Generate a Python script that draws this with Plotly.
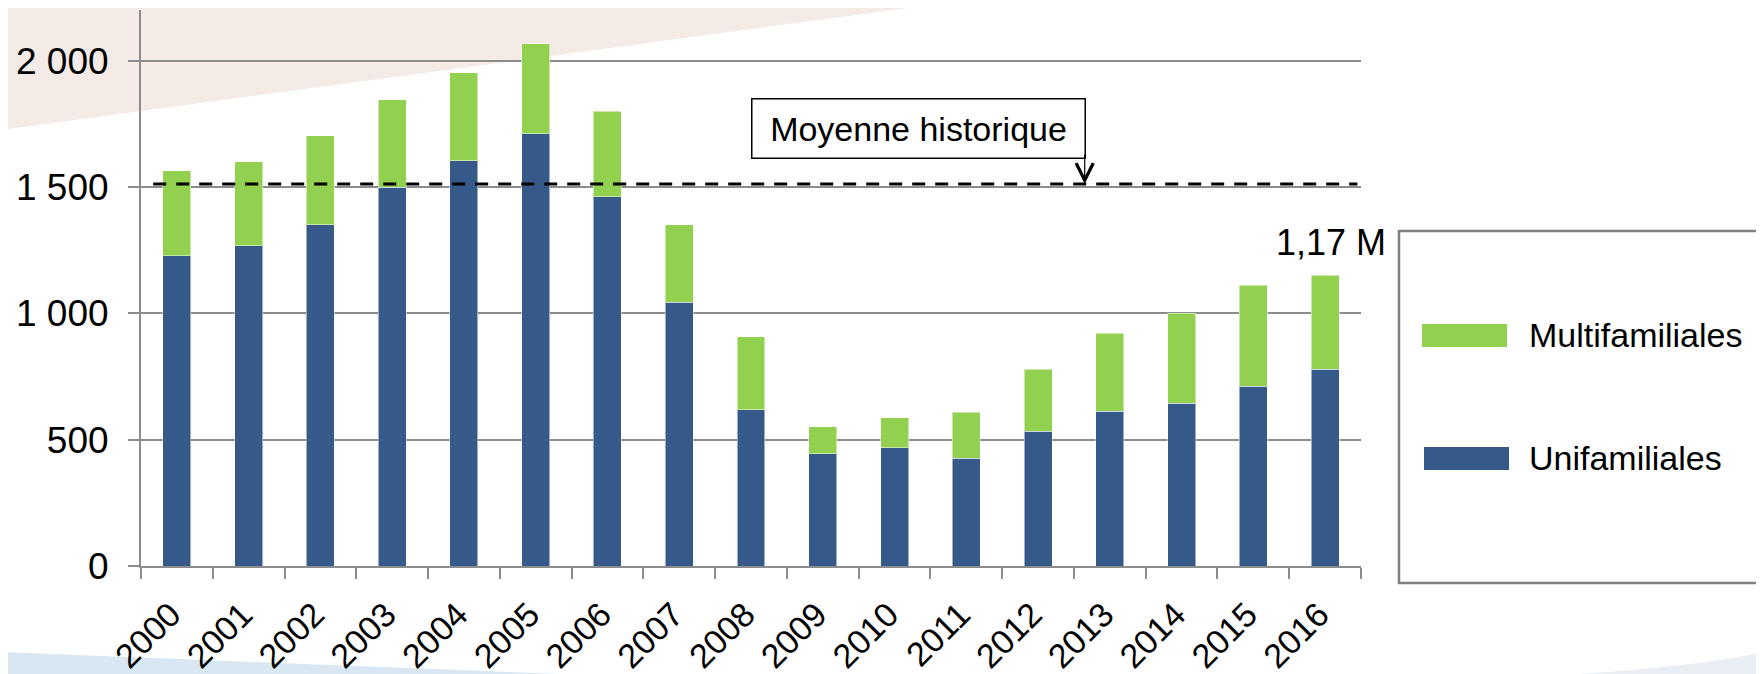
import plotly.graph_objects as go

# Data (thousands of units)
years = [str(y) for y in range(2000, 2017)]
unifamiliales = [1227, 1267, 1351, 1498, 1604, 1711, 1462, 1044, 618, 444, 467, 427, 533, 613, 644, 711, 778]
multifamiliales = [337, 333, 351, 346, 347, 356, 338, 307, 289, 107, 120, 182, 245, 307, 356, 400, 373]
moyenne_historique = 1512
y_ticks = [0, 500, 1000, 1500, 2000]
y_tick_labels = ["0", "500", "1 000", "1 500", "2 000"]
dernier_total = "1,17 M"

BLUE = "#355a8a"
GREEN = "#92d050"
GRAY = "#8c8c8c"
FONT = "Liberation Sans, Arial, sans-serif"

# the page body has an 8px default margin, so the figure is shifted by OFF
OFF = 8
W, H = 1764 - OFF, 674 - OFF
L, R, T, B = 141 - OFF, 403, 10 - OFF, 108
PW, PH = W - L - R, H - T - B


def px(x):
    """page pixel x -> paper x"""
    return (x - OFF - L) / PW


def py(y):
    """page pixel y -> paper y"""
    return (H - B - (y - OFF)) / PH


fig = go.Figure()
fig.add_trace(go.Bar(x=years, y=unifamiliales, name="Unifamiliales",
                     marker=dict(color=BLUE, line=dict(color="rgba(255,255,255,0.5)", width=1))))
fig.add_trace(go.Bar(x=years, y=multifamiliales, name="Multifamiliales",
                     marker=dict(color=GREEN, line=dict(color="rgba(255,255,255,0.5)", width=1))))

shapes = [
    # background decoration
    dict(type="path", xref="paper", yref="paper", layer="below", line=dict(width=0),
         fillcolor="#f4ebe7",
         path=f"M {px(0)},{py(0)} L {px(967)},{py(0)} L {px(0)},{py(130)} Z"),
    dict(type="path", xref="paper", yref="paper", layer="below", line=dict(width=0),
         fillcolor="#d9e7f2",
         path=f"M {px(0)},{py(652)} Q {px(250)},{py(662)} {px(560)},{py(674)} L {px(0)},{py(674)} Z"),
    dict(type="path", xref="paper", yref="paper", layer="below", line=dict(width=0),
         fillcolor="#e8eef3",
         path=f"M {px(1580)},{py(674)} Q {px(1700)},{py(666)} {px(1764)},{py(652)} L {px(1764)},{py(674)} Z"),
    # historical average
    dict(type="line", xref="x", yref="y", x0=-0.33, x1=16.45,
         y0=moyenne_historique, y1=moyenne_historique,
         line=dict(color="black", width=3, dash="13px,10px")),
    # legend box
    dict(type="rect", xref="paper", yref="paper", x0=px(1399), x1=px(1800), y0=py(583), y1=py(231),
         line=dict(color="#7f7f7f", width=2.5), fillcolor="white"),
    dict(type="rect", xref="paper", yref="paper", x0=px(1422), x1=px(1507), y0=py(347), y1=py(324),
         line=dict(width=0), fillcolor=GREEN),
    dict(type="rect", xref="paper", yref="paper", x0=px(1424), x1=px(1509), y0=py(470), y1=py(447),
         line=dict(width=0), fillcolor=BLUE),
]

annotations = [
    dict(x=10.33, y=1733, xref="x", yref="y", text="Moyenne historique", showarrow=False,
         font=dict(size=34, color="black", family=FONT), bordercolor="black", borderwidth=1.5,
         bgcolor="white", width=330, height=56, borderpad=1),
    dict(x=12.65, y=moyenne_historique, xref="x", yref="y", text="", showarrow=True,
         ax=0, ay=-31, arrowhead=5, arrowsize=2.8, arrowwidth=1.2, arrowcolor="black", standoff=0),
    dict(x=16.08, y=1279, xref="x", yref="y", text=dernier_total, showarrow=False,
         font=dict(size=36, color="black", family=FONT)),
    dict(x=px(1527), y=py(335), xref="paper", yref="paper", xanchor="left", yanchor="middle",
         text="Multifamiliales", showarrow=False, font=dict(size=34, color="black", family=FONT)),
    dict(x=px(1527), y=py(458), xref="paper", yref="paper", xanchor="left", yanchor="middle",
         text="Unifamiliales", showarrow=False, font=dict(size=34, color="black", family=FONT)),
]

fig.update_layout(
    width=W, height=H,
    margin=dict(l=L, r=R, t=T, b=B, autoexpand=False),
    barmode="stack",
    bargap=0.61,
    showlegend=False,
    paper_bgcolor="white",
    plot_bgcolor="rgba(0,0,0,0)",
    font=dict(family=FONT, color="black", size=35),
    shapes=shapes,
    annotations=annotations,
    xaxis=dict(
        type="category", range=[-0.5, 16.5], tickson="boundaries", automargin=False,
        ticks="outside", ticklen=11, tickwidth=1.5, tickcolor=GRAY,
        showline=True, linecolor=GRAY, linewidth=2,
        tickangle=-45, tickfont=dict(size=34), showgrid=False,
        ticklabelstandoff=13, ticklabelshift=-6,
    ),
    yaxis=dict(
        range=[0, 2200], tickvals=y_ticks, ticktext=y_tick_labels, automargin=False,
        showgrid=True, gridcolor=GRAY, gridwidth=2,
        showline=True, linecolor=GRAY, linewidth=2,
        ticks="outside", ticklen=11, tickwidth=1.5, tickcolor=GRAY,
        zeroline=False, tickfont=dict(size=37), ticklabelstandoff=12,
    ),
)

fig.write_html("out.html")
